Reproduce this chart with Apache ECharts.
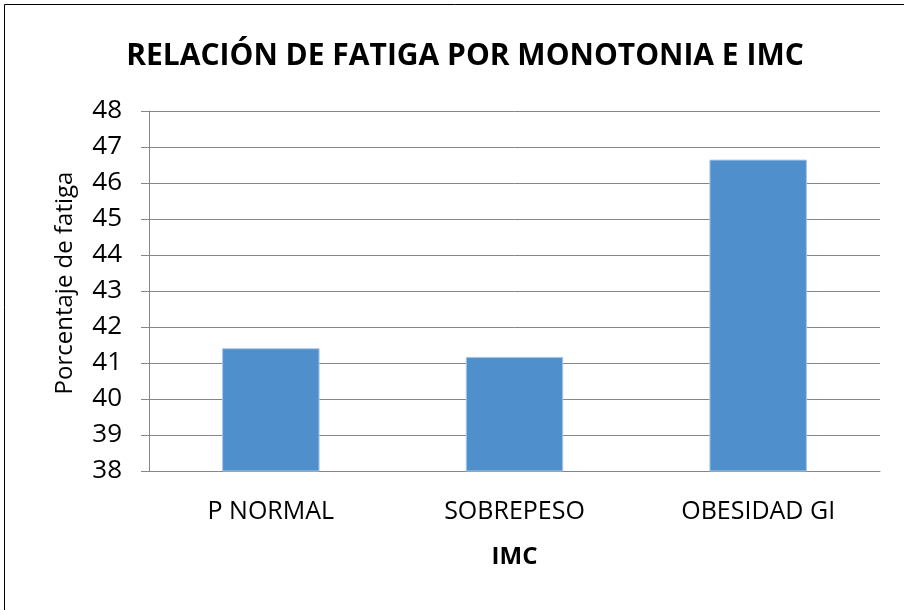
<!DOCTYPE html>
<html><head><meta charset="utf-8">
<script src="https://cdn.jsdelivr.net/npm/echarts@6/dist/echarts.min.js"></script>
<style>html,body{margin:0;padding:0;background:#fff}#c{width:904px;height:610px}</style>
</head><body><div id="c"></div>
<script>
const categories = ['P NORMAL', 'SOBREPESO', 'OBESIDAD GI'];
const fatiga = [41.41, 41.17, 46.65];
const chart = echarts.init(document.getElementById('c'));
const FONT = '"Open Sans", "Noto Sans", sans-serif';
chart.setOption({
  animation: false,
  backgroundColor: '#fff',
  title: {
    text: 'RELACIÓN DE FATIGA POR MONOTONIA E IMC',
    left: 460, top: 36, textAlign: 'center',
    textStyle: { fontFamily: FONT, fontSize: 30, fontWeight: 'bold', color: '#000' }
  },
  graphic: [{
    type: 'rect', shape: { x: 4.5, y: 4.5, width: 1000, height: 1000 },
    style: { fill: 'none', stroke: '#000', lineWidth: 1 }, silent: true
  }],
  grid: { left: 149, right: 24, top: 111, bottom: 139 },
  xAxis: {
    type: 'category', data: categories,
    name: 'IMC', nameLocation: 'middle', nameGap: 74,
    nameTextStyle: { fontFamily: FONT, fontSize: 24, fontWeight: 'bold', color: '#000' },
    axisLine: { lineStyle: { color: '#868686', width: 1 } },
    axisTick: { show: false },
    axisLabel: { fontFamily: FONT, fontSize: 25, color: '#000', margin: 28 }
  },
  yAxis: {
    type: 'value', min: 38, max: 48, interval: 1,
    name: 'Porcentaje de fatiga', nameLocation: 'middle', nameGap: 72,
    nameTextStyle: { fontFamily: FONT, fontSize: 24, color: '#000', padding: [0, 0, 0, 16] },
    axisLine: { show: true, lineStyle: { color: '#868686', width: 1 } },
    axisTick: { show: true, inside: false, length: 8, lineStyle: { color: '#868686' } },
    axisLabel: { fontFamily: FONT, fontSize: 26, color: '#000', margin: 27 },
    splitLine: { lineStyle: { color: '#868686', width: 1 } }
  },
  series: [{
    type: 'bar', data: fatiga, barWidth: '40%',
    itemStyle: { color: '#4F8FCB', borderColor: '#A9C8E8', borderWidth: 1 }
  }]
});
</script></body></html>
